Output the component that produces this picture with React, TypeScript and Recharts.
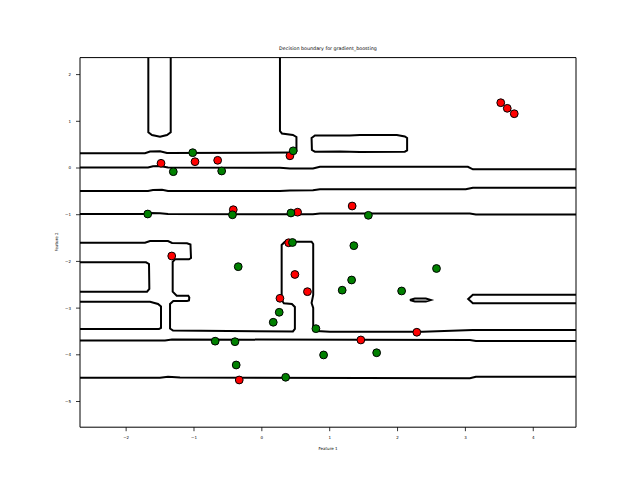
import React from 'react';
import { ScatterChart, Scatter, XAxis, YAxis, ReferenceArea } from 'recharts';

// axis setup
const X_DOMAIN: [number, number] = [-2.68, 4.63];
const Y_DOMAIN: [number, number] = [-5.55, 2.364];
const X_TICKS = [-2, -1, 0, 1, 2, 3, 4];
const Y_TICKS = [-5, -4, -3, -2, -1, 0, 1, 2];

// samples, class 0 (red)
const redPoints = [
  { x: -1.486, y: 0.101 },
  { x: -0.985, y: 0.135 },
  { x: -0.651, y: 0.165 },
  { x: 0.414, y: 0.261 },
  { x: -0.421, y: -0.893 },
  { x: 0.527, y: -0.946 },
  { x: 1.331, y: -0.814 },
  { x: -1.328, y: -1.884 },
  { x: 0.395, y: -1.601 },
  { x: 0.487, y: -2.28 },
  { x: 0.672, y: -2.648 },
  { x: 0.267, y: -2.79 },
  { x: -0.333, y: -4.539 },
  { x: 1.459, y: -3.682 },
  { x: 2.284, y: -3.517 },
  { x: 3.521, y: 1.398 },
  { x: 3.617, y: 1.278 },
  { x: 3.72, y: 1.162 },
];

// samples, class 1 (green)
const greenPoints = [
  { x: -1.019, y: 0.328 },
  { x: -1.305, y: -0.079 },
  { x: -0.592, y: -0.064 },
  { x: 0.462, y: 0.368 },
  { x: -1.682, y: -0.985 },
  { x: -0.433, y: -1.002 },
  { x: 0.429, y: -0.963 },
  { x: 1.57, y: -1.013 },
  { x: -0.348, y: -2.113 },
  { x: 0.451, y: -1.595 },
  { x: 0.256, y: -3.089 },
  { x: 0.168, y: -3.303 },
  { x: 0.797, y: -3.44 },
  { x: -0.688, y: -3.708 },
  { x: -0.396, y: -3.719 },
  { x: -0.378, y: -4.218 },
  { x: 0.351, y: -4.481 },
  { x: 0.91, y: -4.003 },
  { x: 1.356, y: -1.663 },
  { x: 1.323, y: -2.398 },
  { x: 1.184, y: -2.616 },
  { x: 2.06, y: -2.633 },
  { x: 2.574, y: -2.152 },
  { x: 1.692, y: -3.956 },
];

// decision boundary contour paths, [x, y] in feature space
const contourA = [[-1.673, 2.364], [-1.673, 0.764], [-1.619, 0.707], [-1.501, 0.67], [-1.398, 0.707], [-1.343, 0.764], [-1.343, 2.364]];
const contourB = [[-2.68, 0.315], [-1.722, 0.315], [-1.648, 0.353], [-1.501, 0.358], [-1.398, 0.321], [0.458, 0.33], [0.51, 0.36], [0.51, 0.664], [0.458, 0.707], [0.296, 0.739], [0.267, 0.792], [0.267, 2.364]];
const contourC = [[0.753, 0.664], [0.782, 0.696], [1.297, 0.696], [1.445, 0.707], [1.99, 0.707], [2.107, 0.674], [2.141, 0.642], [2.141, 0.375], [2.107, 0.349], [1.445, 0.343], [1.15, 0.353], [0.782, 0.349], [0.738, 0.385], [0.733, 0.642], [0.753, 0.664]];
const contourD = [[-2.68, 0.011], [-1.677, 0.011], [-1.604, 0.036], [-1.501, 0.043], [-1.383, 0.011], [0.267, 0.006], [0.414, -0.011], [0.753, -0.011], [0.856, 0.026], [3.037, 0.026], [3.11, -0.028], [4.63, -0.028]];
const contourE = [[-2.68, -0.492], [-1.677, -0.492], [-1.604, -0.471], [-1.471, -0.465], [-1.383, -0.492], [0.267, -0.49], [0.414, -0.482], [0.753, -0.477], [0.856, -0.456], [3.005, -0.456], [3.11, -0.422], [4.63, -0.422]];
const contourF = [[-2.68, -0.985], [-1.722, -0.985], [-1.648, -0.963], [-1.501, -0.97], [-1.383, -0.985], [0.753, -0.991], [0.856, -0.974], [3.066, -0.974], [3.154, -0.996], [4.63, -0.996]];
const contourG = [[-2.68, -1.599], [-1.722, -1.599], [-1.648, -1.563], [-1.383, -1.563], [-1.324, -1.606], [-1.103, -1.612], [-1.052, -1.638], [-1.044, -1.927], [-1.074, -1.955], [-1.28, -1.955], [-1.314, -2.012], [-1.314, -2.648], [-1.255, -2.734], [-1.084, -2.734], [-1.069, -2.772], [-1.074, -2.837], [-1.103, -2.847], [-1.305, -2.847], [-1.353, -2.912], [-1.353, -3.436], [-1.309, -3.479], [0.458, -3.5], [0.487, -3.447], [0.487, -2.976], [0.443, -2.912], [0.325, -2.897], [0.292, -2.826], [0.292, -1.648], [0.34, -1.578], [0.733, -1.578], [0.757, -1.627], [0.757, -2.719], [0.733, -2.89], [0.757, -2.997], [0.757, -3.404], [0.807, -3.49], [1.003, -3.505], [2.373, -3.505], [3.11, -3.468], [4.63, -3.468]];
const contourH = [[-2.68, -2.019], [-1.707, -2.019], [-1.663, -2.055], [-1.658, -2.59], [-1.692, -2.648], [-2.68, -2.648]];
const contourI = [[-2.68, -2.862], [-1.648, -2.862], [-1.53, -2.912], [-1.486, -2.965], [-1.486, -3.425], [-1.515, -3.447], [-2.68, -3.447]];
const contourJ = [[-2.68, -3.693], [-1.427, -3.693], [-1.324, -3.672], [3.066, -3.682], [3.154, -3.704], [4.63, -3.704]];
const contourK = [[-2.68, -4.489], [-1.501, -4.489], [-1.383, -4.468], [-1.206, -4.485], [3.066, -4.502], [3.154, -4.472], [4.63, -4.472]];
const contourL = [[2.181, -2.826], [2.255, -2.794], [2.417, -2.794], [2.49, -2.826], [2.417, -2.858], [2.255, -2.858], [2.181, -2.826]];
const contourM = [[4.63, -2.712], [3.11, -2.712], [3.041, -2.805], [3.11, -2.897], [4.63, -2.897]];

const contours = [contourA, contourB, contourC, contourD, contourE, contourF, contourG, contourH, contourI, contourJ, contourK, contourL, contourM];

const FONT = 'DejaVu Sans, sans-serif';

const fmt = (v: number) => (v < 0 ? `\u2212${Math.abs(v)}` : `${v}`);

const dot = (fill: string) => (props: any) => (
  <circle cx={props.cx} cy={props.cy} r={3.9} fill={fill} stroke="#000" strokeWidth={1} />
);

export default function App() {
  return (
    <div style={{ position: 'absolute', left: 0, top: 0, width: 640, height: 480, background: '#fff', fontFamily: FONT }}>
      <div style={{ position: 'absolute', left: 80, width: 496, top: 45.6, fontSize: 4.8, lineHeight: '5px', textAlign: 'center', color: '#000' }}>
        Decision boundary for gradient_boosting
      </div>
      <ScatterChart width={640} height={480} margin={{ top: 57.6, right: 64, left: 50, bottom: 22.8 }}>
        <XAxis
          type="number"
          dataKey="x"
          domain={X_DOMAIN}
          ticks={X_TICKS}
          allowDataOverflow
          height={30}
          tickSize={4}
          tickMargin={5}
          tickFormatter={fmt}
          axisLine={false}
          tickLine={{ stroke: '#000', strokeWidth: 0.8 }}
          tick={{ fontSize: 4, fill: '#000', fontFamily: FONT }}
        />
        <YAxis
          type="number"
          dataKey="y"
          domain={Y_DOMAIN}
          ticks={Y_TICKS}
          allowDataOverflow
          width={30}
          tickSize={4}
          tickMargin={5}
          tickFormatter={fmt}
          axisLine={false}
          tickLine={{ stroke: '#000', strokeWidth: 0.8 }}
          tick={{ fontSize: 4, fill: '#000', fontFamily: FONT }}
        />
        {contours.map((c, i) => (
          <Scatter
            key={`contour-${i}`}
            data={c.map(([x, y]) => ({ x, y }))}
            line={{ stroke: '#000', strokeWidth: 2 }}
            lineJointType="linear"
            shape={() => <g />}
            legendType="none"
            isAnimationActive={false}
          />
        ))}
        <Scatter data={redPoints} shape={dot('#ff0000')} isAnimationActive={false} />
        <Scatter data={greenPoints} shape={dot('#008000')} isAnimationActive={false} />
        <ReferenceArea
          x1={X_DOMAIN[0]}
          x2={X_DOMAIN[1]}
          y1={Y_DOMAIN[0]}
          y2={Y_DOMAIN[1]}
          fill="none"
          fillOpacity={0}
          stroke="#000"
          strokeWidth={1}
          ifOverflow="visible"
        />
      </ScatterChart>
      <div style={{ position: 'absolute', left: 80, width: 496, top: 445.5, fontSize: 4, lineHeight: '5px', textAlign: 'center', color: '#000' }}>
        Feature 1
      </div>
      <div
        style={{
          position: 'absolute',
          left: 56,
          top: 242.4,
          fontSize: 4,
          lineHeight: '5px',
          whiteSpace: 'nowrap',
          color: '#000',
          transform: 'translate(-50%, -50%) rotate(-90deg)',
        }}
      >
        Feature 2
      </div>
    </div>
  );
}
